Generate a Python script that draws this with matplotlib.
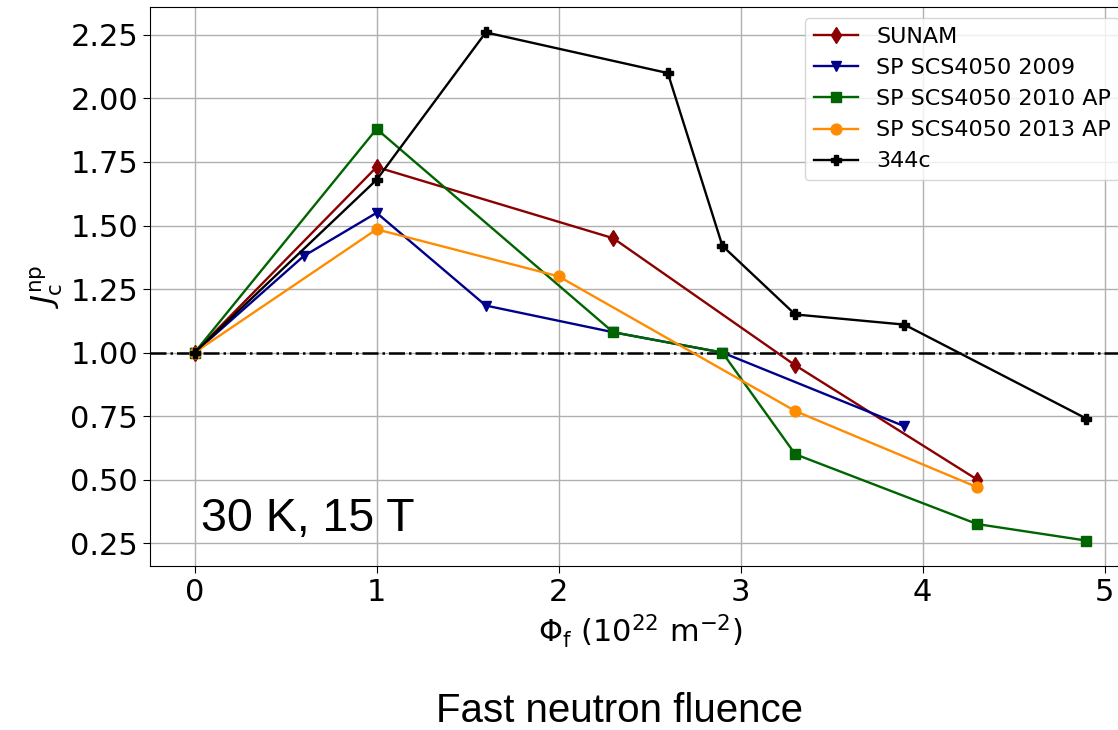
import matplotlib
matplotlib.use("Agg")
import matplotlib.pyplot as plt

# Data
x_sunam = [0, 1, 2.3, 3.3, 4.3]
y_sunam = [1.0, 1.73, 1.45, 0.95, 0.50]

x_2009 = [0, 0.6, 1, 1.6, 2.3, 2.9, 3.9]
y_2009 = [1.0, 1.38, 1.55, 1.185, 1.08, 1.0, 0.71]

x_2010 = [0, 1, 2.3, 2.9, 3.3, 4.3, 4.9]
y_2010 = [1.0, 1.88, 1.08, 1.0, 0.60, 0.325, 0.26]

x_2013 = [0, 1, 2.0, 3.3, 4.3]
y_2013 = [1.0, 1.485, 1.30, 0.77, 0.47]

x_344c = [0, 1, 1.6, 2.6, 2.9, 3.3, 3.9, 4.9]
y_344c = [1.0, 1.68, 2.26, 2.10, 1.42, 1.15, 1.11, 0.74]

labels = ["SUNAM", "SP SCS4050 2009", "SP SCS4050 2010 AP", "SP SCS4050 2013 AP", "344c"]
yticks = [0.25, 0.50, 0.75, 1.00, 1.25, 1.50, 1.75, 2.00, 2.25]
xticks = [0, 1, 2, 3, 4, 5]

fig = plt.figure(figsize=(11.18, 7.30), dpi=100)
ax = fig.add_axes([150/1118, 164/730, 981/1118, 559/730])

lw = 1.7
ms = 7.8
ax.plot(x_sunam, y_sunam, color="#8b0000", marker="d", lw=lw, ms=ms, label=labels[0])
ax.plot(x_2009, y_2009, color="#00008b", marker="v", lw=lw, ms=ms, label=labels[1])
ax.plot(x_2010, y_2010, color="#006400", marker="s", lw=lw, ms=ms, label=labels[2])
ax.plot(x_2013, y_2013, color="#ff8c00", marker="o", lw=lw, ms=ms, label=labels[3])
ax.plot(x_344c, y_344c, color="black", marker="P", lw=lw, ms=ms, label=labels[4])
ax.axhline(1.0, color="black", ls="-.", lw=1.8, zorder=1.5)

ax.set_xlim(-0.245, 5.145)
ax.set_ylim(0.16, 2.36)
ax.set_xticks(xticks)
ax.set_yticks(yticks)
ax.set_yticklabels([f"{v:.2f}" for v in yticks])
ax.tick_params(labelsize=22, length=5)
ax.grid(True, color="#b0b0b0", lw=1.0)
ax.set_axisbelow(True)

ax.set_xlabel(r"$\Phi_\mathrm{f}$ $(10^{22}$ m$^{-2})$", fontsize=22)
ax.set_ylabel(r"$J_\mathrm{c}^\mathrm{np}$", fontsize=22)

ax.legend(loc="upper right", fontsize=16, framealpha=0.8)

fig.text(201/1118, 1 - 531/730, "30 K, 15 T", fontsize=33.5, family="Liberation Sans",
         ha="left", va="baseline")
fig.text(619/1118, 1 - 722/730, "Fast neutron fluence", fontsize=29, family="Liberation Sans",
         ha="center", va="baseline")

fig.savefig("out.png", dpi=100)
